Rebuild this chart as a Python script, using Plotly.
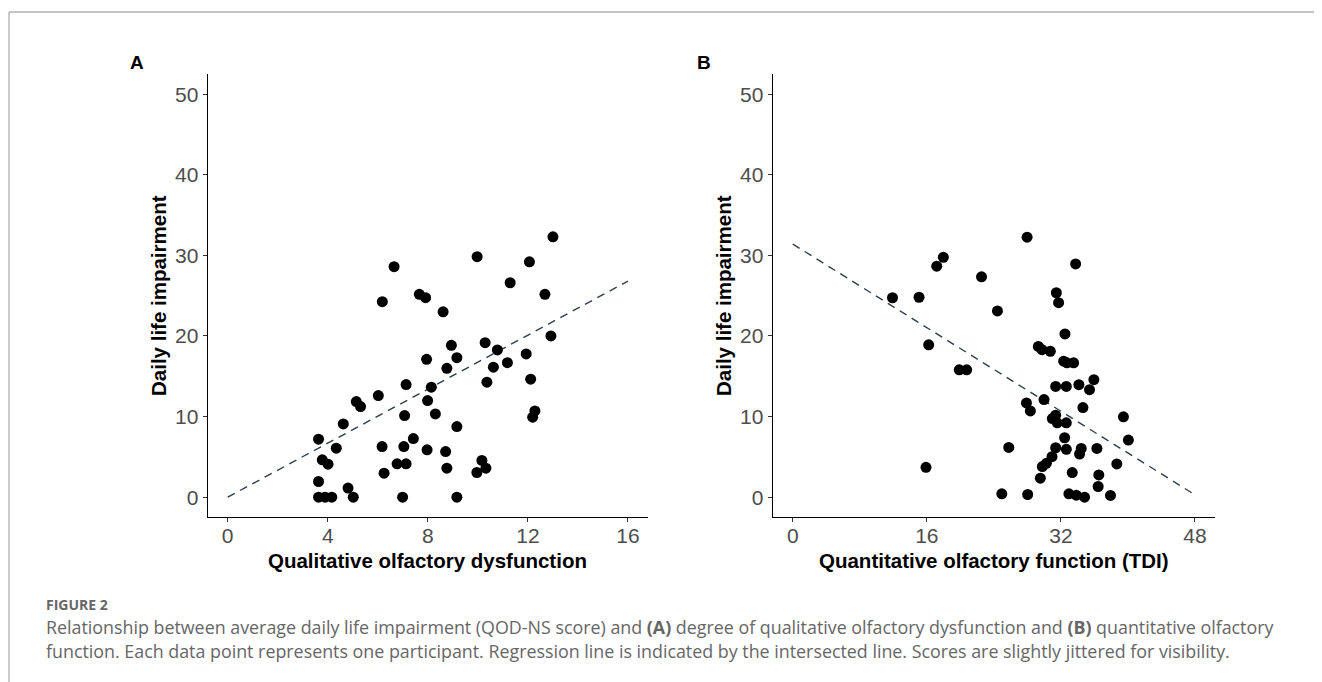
import plotly.graph_objects as go

# ---- Data ----
qual_x = [3.63, 3.78, 4.01, 3.63, 3.63, 3.89, 4.16, 4.34, 4.62, 4.81,
          5.02, 5.14, 5.31, 6.02, 6.18, 6.17, 6.25, 6.77, 7.13, 6.99,
          7.04, 7.07, 7.13, 7.42, 7.95, 7.99, 8.14, 7.97, 8.30, 8.71,
          8.76, 8.76, 8.94, 9.16, 9.16, 9.16, 8.61, 9.96, 10.16, 10.32,
          10.29, 10.36, 10.62, 10.78, 11.18, 11.93, 12.11, 12.19, 12.28, 12.92,
          6.65, 7.66, 7.91, 9.97, 12.06, 11.29, 12.68, 13.00]
qual_y = [7.19, 4.63, 4.09, 1.94, 0.0, 0.0, 0.0, 6.07, 9.09, 1.12,
          0.0, 11.86, 11.24, 12.6, 24.25, 6.28, 2.98, 4.13, 4.13, 0.0,
          6.28, 10.12, 13.97, 7.27, 17.1, 11.98, 13.64, 5.87, 10.33, 5.66,
          3.6, 15.99, 18.84, 17.31, 8.76, 0.0, 23.0, 3.06, 4.55, 3.6,
          19.17, 14.26, 16.12, 18.26, 16.69, 17.77, 14.63, 9.92, 10.7, 20.0,
          28.6, 25.17, 24.75, 29.83, 29.2, 26.6, 25.17, 32.3]

tdi_x = [15.9, 16.22, 19.87, 20.75, 24.43, 24.95, 25.78, 28.04, 27.89, 28.36,
         29.31, 29.75, 30.74, 29.99, 29.55, 29.79, 30.27, 30.94, 31.38, 30.98,
         31.38, 31.57, 32.65, 31.38, 32.65, 32.49, 32.33, 32.73, 33.52, 32.45,
         32.65, 34.15, 34.63, 33.36, 32.96, 33.84, 34.83, 34.43, 34.23, 35.42,
         35.94, 36.3, 36.45, 36.53, 37.92, 38.68, 39.47, 40.06, 31.73, 11.9,
         15.07, 17.18, 17.97, 22.53, 27.97, 31.46, 33.76]
tdi_y = [3.7, 18.9, 15.8, 15.8, 23.1, 0.41, 6.17, 0.33, 11.69, 10.7,
         18.7, 18.3, 18.1, 12.1, 2.35, 3.79, 4.2, 5.02, 6.13, 9.75,
         10.16, 9.22, 9.22, 13.74, 13.74, 20.25, 16.87, 16.67, 16.67, 7.37,
         5.93, 13.95, 11.11, 3.05, 0.41, 0.25, 0.0, 6.05, 5.35, 13.33,
         14.57, 6.05, 1.32, 2.76, 0.21, 4.12, 9.96, 7.08, 24.13, 24.74,
         24.8, 28.65, 29.76, 27.33, 32.26, 25.36, 28.93]

# regression lines: [intercept, slope], x extent
fit_qual = [0.0, 1.675]
fit_qual_x = [0, 16]
fit_tdi = [31.4, -0.648]
fit_tdi_x = [0, 48]

x_ticks_qual = [0, 4, 8, 12, 16]
x_ticks_tdi = [0, 16, 32, 48]
y_ticks = [0, 10, 20, 30, 40, 50]

# The page body has an 8px margin, so the figure is 8px smaller than the window.
OFF = 8
W, H = 1322 - OFF, 682 - OFF


def fx(x):
    return (x - OFF) / W


def fy(y):
    return 1 - (y - OFF) / H


fig = go.Figure()


def fit_line(coef, xs):
    return [coef[0] + coef[1] * x for x in xs]


line_style = dict(color="#2c3e50", width=1.4, dash="8px,6px")
marker_style = dict(color="black", size=11, line=dict(width=0))

fig.add_trace(go.Scatter(x=fit_qual_x, y=fit_line(fit_qual, fit_qual_x), mode="lines",
                         line=line_style, xaxis="x", yaxis="y", showlegend=False))
fig.add_trace(go.Scatter(x=qual_x, y=qual_y, mode="markers", marker=marker_style,
                         xaxis="x", yaxis="y", showlegend=False))
fig.add_trace(go.Scatter(x=fit_tdi_x, y=fit_line(fit_tdi, fit_tdi_x), mode="lines",
                         line=line_style, xaxis="x2", yaxis="y2", showlegend=False))
fig.add_trace(go.Scatter(x=tdi_x, y=tdi_y, mode="markers", marker=marker_style,
                         xaxis="x2", yaxis="y2", showlegend=False))

tickfont = dict(family="Liberation Sans, Arial, sans-serif", size=21, color="#4d4d4d")
common = dict(showgrid=False, zeroline=False, showline=True, linecolor="black", linewidth=1.3,
              ticks="outside", ticklen=4, tickwidth=1, tickcolor="#333333", tickfont=tickfont)

ydom = [fy(517.3), fy(74)]
fig.update_layout(
    width=W, height=H,
    margin=dict(l=0, r=0, t=0, b=0),
    paper_bgcolor="white", plot_bgcolor="white",
    xaxis=dict(domain=[fx(207.7), fx(648)], range=[-0.8, 16.8], tickvals=x_ticks_qual,
               anchor="y", ticklabelstandoff=-5, **common),
    yaxis=dict(domain=ydom, range=[-2.5, 52.5], tickvals=y_ticks, anchor="x", **common),
    xaxis2=dict(domain=[fx(772.7), fx(1215)], range=[-2.4, 50.4], tickvals=x_ticks_tdi,
                anchor="y2", ticklabelstandoff=-5, **common),
    yaxis2=dict(domain=ydom, range=[-2.5, 52.5], tickvals=y_ticks, anchor="x2", **common),
)

title_font = dict(family="Liberation Sans, Arial, sans-serif", size=20.5, color="black")
bold_label = dict(family="Liberation Sans, Arial, sans-serif", size=19, color="black")


def ann(text, x, y, font, xanchor="center", **kw):
    fig.add_annotation(text=text, x=fx(x), y=fy(y), xref="paper", yref="paper",
                       xanchor=xanchor, yanchor="middle",
                       showarrow=False, font=font, **kw)


ann("<b>A</b>", 137, 63, bold_label)
ann("<b>B</b>", 704, 63, bold_label)
ann("<b>Qualitative olfactory dysfunction</b>", 427.8, 560, title_font)
ann("<b>Quantitative olfactory function (TDI)</b>", 993.8, 560, title_font)
ann("<b>Daily life impairment</b>", 158, 296, title_font, textangle=-90)
ann("<b>Daily life impairment</b>", 723, 296, title_font, textangle=-90)

cap_font = dict(family="Open Sans, sans-serif", size=17.85, color="#666666")
ann("<b>FIGURE 2</b>", 44, 604,
    dict(family="Open Sans, sans-serif", size=14, color="#666666"), xanchor="left")
ann("Relationship between average daily life impairment (QOD-NS score) and <b>(A)</b> degree of "
    "qualitative olfactory dysfunction and <b>(B)</b> quantitative olfactory",
    44, 627.3, cap_font, xanchor="left")
ann("function. Each data point represents one participant. Regression line is indicated by the "
    "intersected line. Scores are slightly jittered for visibility.",
    44, 650.7, cap_font, xanchor="left")

# figure frame (top and left edges)
fig.add_shape(type="line", xref="paper", yref="paper", x0=fx(9), x1=1, y0=fy(12), y1=fy(12),
              line=dict(color="#b0b0b0", width=1.3))
fig.add_shape(type="line", xref="paper", yref="paper", x0=fx(9), x1=fx(9), y0=0, y1=fy(12),
              line=dict(color="#b0b0b0", width=1.3))

fig.write_html("out.html")
